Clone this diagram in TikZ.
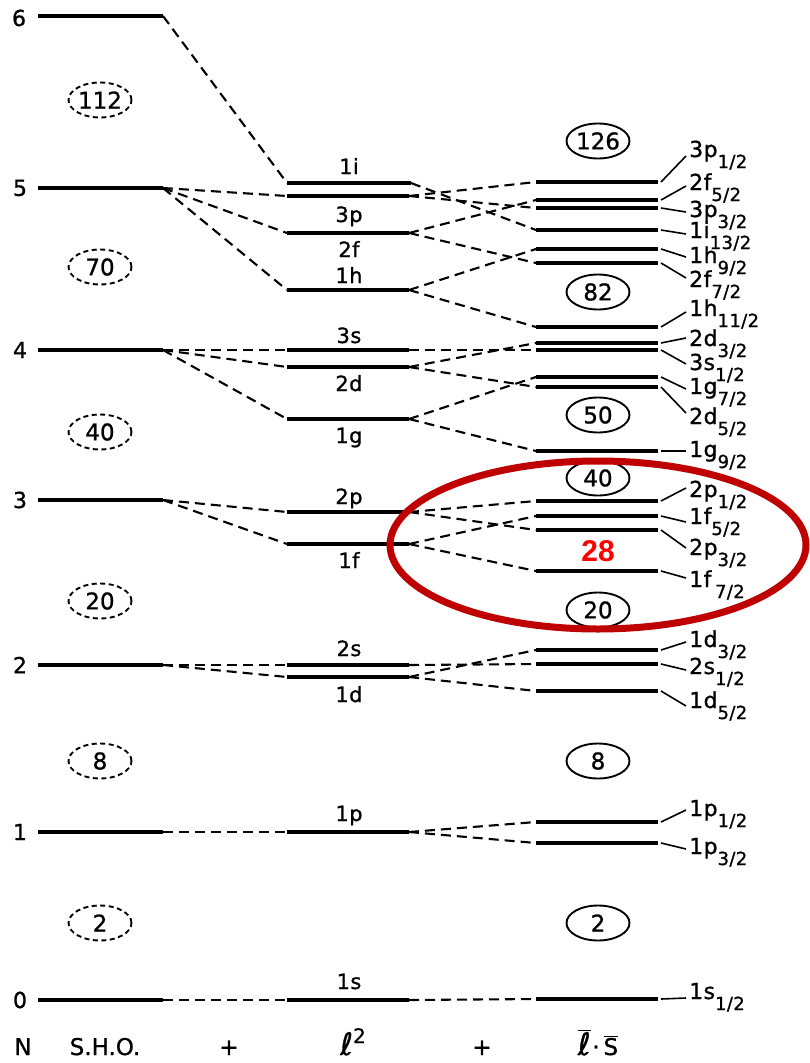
\documentclass[tikz,border=0pt]{standalone}
\usepackage{fontspec}
\setmainfont{DejaVu Sans}[FakeBold=1]
\newfontfamily\labfont{DejaVu Sans}[LetterSpace=2, FakeBold=1]
\newfontfamily\hlfont{Liberation Sans}
\usetikzlibrary{shapes.geometric}

% one energy level: name, x from, x to, y
\newcommand\lev[4]{%
  \coordinate (#1L) at (#2,#4);
  \coordinate (#1R) at (#3,#4);
  \draw[shell] (#1L) -- (#1R);}
% subscript of a j-label
\newcommand\sbs[1]{\raisebox{-11pt}{\fontsize{18}{18}\selectfont #1}}
% spin-orbit label: level name, leader end y, baseline y, text
\newcommand\jlab[4]{%
  \coordinate (#1T) at (686,#2);
  \draw[leadline] ([xshift=3pt]#1R) -- (#1T);
  \node[rlab] (#1N) at (689,#3) {#4};}

\tikzset{
  shell/.style={line width=3.3pt},
  conn/.style={line width=2.1pt, dash pattern=on 10pt off 6pt},
  leadline/.style={line width=1.6pt},
  magic/.style={ellipse, draw, line width=1.9pt, minimum width=63pt,
    minimum height=35pt, inner sep=0pt, font=\fontsize{23}{23}\selectfont},
  shomagic/.style={magic, dash pattern=on 5pt off 3.5pt},
  nlab/.style={font=\fontsize{22}{22}\selectfont},
  mlab/.style={anchor=base, font=\labfont\fontsize{21}{21}\selectfont},
  rlab/.style={anchor=base west, inner sep=0pt, font=\labfont\fontsize{22}{22}\selectfont},
  foot/.style={font=\fontsize{23}{23}\selectfont},
  ring/.style={ellipse, draw=red!75!black, line width=7pt, minimum width=416pt,
    minimum height=168pt, inner sep=0pt},
}

\begin{document}
\begin{tikzpicture}[x=1pt, y=-1pt]
\useasboundingbox (0,0) rectangle (810,1063);

% harmonic oscillator shells
\lev{n6}{38}{163}{16}
\lev{n5}{38}{163}{188}
\lev{n4}{38}{163}{350}
\lev{n3}{38}{163}{500}
\lev{n2}{38}{163}{665}
\lev{n1}{38}{163}{832}
\lev{n0}{38}{163}{1000}
\node[nlab] (N6) at (19,18) {6};
\node[nlab] (N5) at (20,188) {5};
\node[nlab] (N4) at (20,350) {4};
\node[nlab] (N3) at (20,500) {3};
\node[nlab] (N2) at (20,665) {2};
\node[nlab] (N1) at (20,832) {1};
\node[nlab] (N0) at (20,1000) {0};

\node[shomagic] (o112) at (100,100) {112};
\node[shomagic] (o70) at (100,267) {70};
\node[shomagic] (o40) at (100,432) {40};
\node[shomagic] (o20) at (100,601) {20};
\node[shomagic] (o8) at (100,761) {8};
\node[shomagic] (o2) at (100,923) {2};

% l^2 splitting
\lev{m1i}{287}{411}{183}
\lev{m3p}{287}{409}{196}
\lev{m2f}{287}{409}{233}
\lev{m1h}{287}{409}{290}
\lev{m3s}{287}{409}{350}
\lev{m2d}{287}{409}{367}
\lev{m1g}{287}{409}{419}
\lev{m2p}{287}{409}{512}
\lev{m1f}{287}{409}{544}
\lev{m2s}{287}{409}{665}
\lev{m1d}{287}{409}{677}
\lev{m1p}{287}{409}{832}
\lev{m1s}{287}{409}{1000}
\node[mlab] (a1i) at (349,174) {1i};
\node[mlab] (a3p) at (349,222) {3p};
\node[mlab] (a2f) at (349,257) {2f};
\node[mlab] (a1h) at (349,283) {1h};
\node[mlab] (a3s) at (349,343) {3s};
\node[mlab] (a2d) at (349,391) {2d};
\node[mlab] (a1g) at (349,443) {1g};
\node[mlab] (a2p) at (349,504) {2p};
\node[mlab] (a1f) at (349,568) {1f};
\node[mlab] (a2s) at (349,656) {2s};
\node[mlab] (a1d) at (349,702) {1d};
\node[mlab] (a1p) at (349,821) {1p};
\node[mlab] (a1s) at (349,989) {1s};

% spin-orbit splitting
\lev{r3p1}{536}{658}{182}
\lev{r2f5}{536}{658}{200}
\lev{r3p3}{536}{658}{208}
\lev{r1i13}{536}{658}{230}
\lev{r1h9}{536}{658}{249}
\lev{r2f7}{536}{658}{263}
\lev{r1h11}{536}{658}{327}
\lev{r2d3}{536}{658}{343}
\lev{r3s1}{536}{658}{350}
\lev{r1g7}{536}{658}{377}
\lev{r2d5}{536}{658}{387}
\lev{r1g9}{536}{658}{451}
\lev{r2p1}{536}{658}{501}
\lev{r1f5}{536}{658}{516}
\lev{r2p3}{536}{658}{530}
\lev{r1f7}{536}{658}{571}
\lev{r1d3}{536}{658}{650}
\lev{r2s1}{536}{658}{664}
\lev{r1d5}{536}{658}{691}
\lev{r1p1}{536}{658}{822}
\lev{r1p3}{536}{658}{843}
\lev{r1s1}{536}{658}{999}

\jlab{r3p1}{156}{157}{3p\sbs{1/2}}
\jlab{r2f5}{186}{190}{2f\sbs{5/2}}
\jlab{r3p3}{212}{217}{3p\sbs{3/2}}
\jlab{r1i13}{234}{238}{1i\sbs{13/2}}
\jlab{r1h9}{257}{263}{1h\sbs{9/2}}
\jlab{r2f7}{278}{287}{2f\sbs{7/2}}
\jlab{r1h11}{312}{316}{1h\sbs{11/2}}
\jlab{r2d3}{338}{346}{2d\sbs{3/2}}
\jlab{r3s1}{364}{370}{3s\sbs{1/2}}
\jlab{r1g7}{389}{394}{1g\sbs{7/2}}
\jlab{r2d5}{413}{424}{2d\sbs{5/2}}
\jlab{r1g9}{451}{457}{1g\sbs{9/2}}
\jlab{r2p1}{488}{497}{2p\sbs{1/2}}
\jlab{r1f5}{522}{524}{1f\sbs{5/2}}
\jlab{r2p3}{548}{555}{2p\sbs{3/2}}
\jlab{r1f7}{578}{587}{1f\,\sbs{7/2}}
\jlab{r1d3}{642}{647}{1d\sbs{3/2}}
\jlab{r2s1}{670}{674}{2s\sbs{1/2}}
\jlab{r1d5}{706}{708}{1d\sbs{5/2}}
\jlab{r1p1}{810}{816}{1p\sbs{1/2}}
\jlab{r1p3}{849}{854}{1p\sbs{3/2}}
\jlab{r1s1}{998}{999}{1s\sbs{1/2}}

\node[magic] (c126) at (598,141) {126};
\node[magic] (c82) at (598,292) {82};
\node[magic] (c50) at (598,415) {50};
\node[magic] (c40) at (598,478) {40};
\node[magic] (c20) at (598,610) {20};
\node[magic] (c8) at (598,761) {8};
\node[magic] (c2) at (598,923) {2};

% oscillator shell -> l^2 levels
\draw[conn] (n6R) -- (m1iL);
\draw[conn] (n5R) -- (m3pL);
\draw[conn] (n5R) -- (m2fL);
\draw[conn] (n5R) -- (m1hL);
\draw[conn] (n4R) -- (m3sL);
\draw[conn] (n4R) -- (m2dL);
\draw[conn] (n4R) -- (m1gL);
\draw[conn] (n3R) -- (m2pL);
\draw[conn] (n3R) -- (m1fL);
\draw[conn] (n2R) -- (m2sL);
\draw[conn] (n2R) -- (m1dL);
\draw[conn] (n1R) -- (m1pL);
\draw[conn] (n0R) -- (m1sL);

% l^2 levels -> j levels
\draw[conn] (m1iR) -- (r1i13L);
\draw[conn] (m3pR) -- (r3p1L);
\draw[conn] (m3pR) -- (r3p3L);
\draw[conn] (m2fR) -- (r2f5L);
\draw[conn] (m2fR) -- (r2f7L);
\draw[conn] (m1hR) -- (r1h9L);
\draw[conn] (m1hR) -- (r1h11L);
\draw[conn] (m3sR) -- (r3s1L);
\draw[conn] (m2dR) -- (r2d3L);
\draw[conn] (m2dR) -- (r2d5L);
\draw[conn] (m1gR) -- (r1g7L);
\draw[conn] (m1gR) -- (r1g9L);
\draw[conn] (m2pR) -- (r2p1L);
\draw[conn] (m2pR) -- (r2p3L);
\draw[conn] (m1fR) -- (r1f5L);
\draw[conn] (m1fR) -- (r1f7L);
\draw[conn] (m2sR) -- (r2s1L);
\draw[conn] (m1dR) -- (r1d3L);
\draw[conn] (m1dR) -- (r1d5L);
\draw[conn] (m1pR) -- (r1p1L);
\draw[conn] (m1pR) -- (r1p3L);
\draw[conn] (m1sR) -- (r1s1L);

% highlighted magic number 28
\node[ring] (hl) at (598,545) {};
\node[font=\hlfont\bfseries\fontsize{30}{30}\selectfont, text=red] (n28) at (598,551) {28};

% column captions
\node[foot, anchor=base] (capN) at (23,1055) {N};
\node[foot, anchor=base] (capSHO) at (105,1055) {S.H.O.};
\node[foot, anchor=base] (plus1) at (229,1055) {+};
\node[anchor=base, inner sep=0pt] (capL2) at (353,1055)
  {\fontsize{31}{31}\selectfont ℓ\raisebox{12pt}{\fontsize{20}{20}\selectfont 2}};
\node[foot, anchor=base] (plus2) at (482,1055) {+};
\node[anchor=base, inner sep=0pt] (capLS) at (598,1055)
  {{\fontsize{31}{31}\selectfont$\overline{\mbox{ℓ}}$}\,{\fontsize{23}{23}\selectfont ·\,$\overline{\mbox{S}}$}};
\end{tikzpicture}
\end{document}
